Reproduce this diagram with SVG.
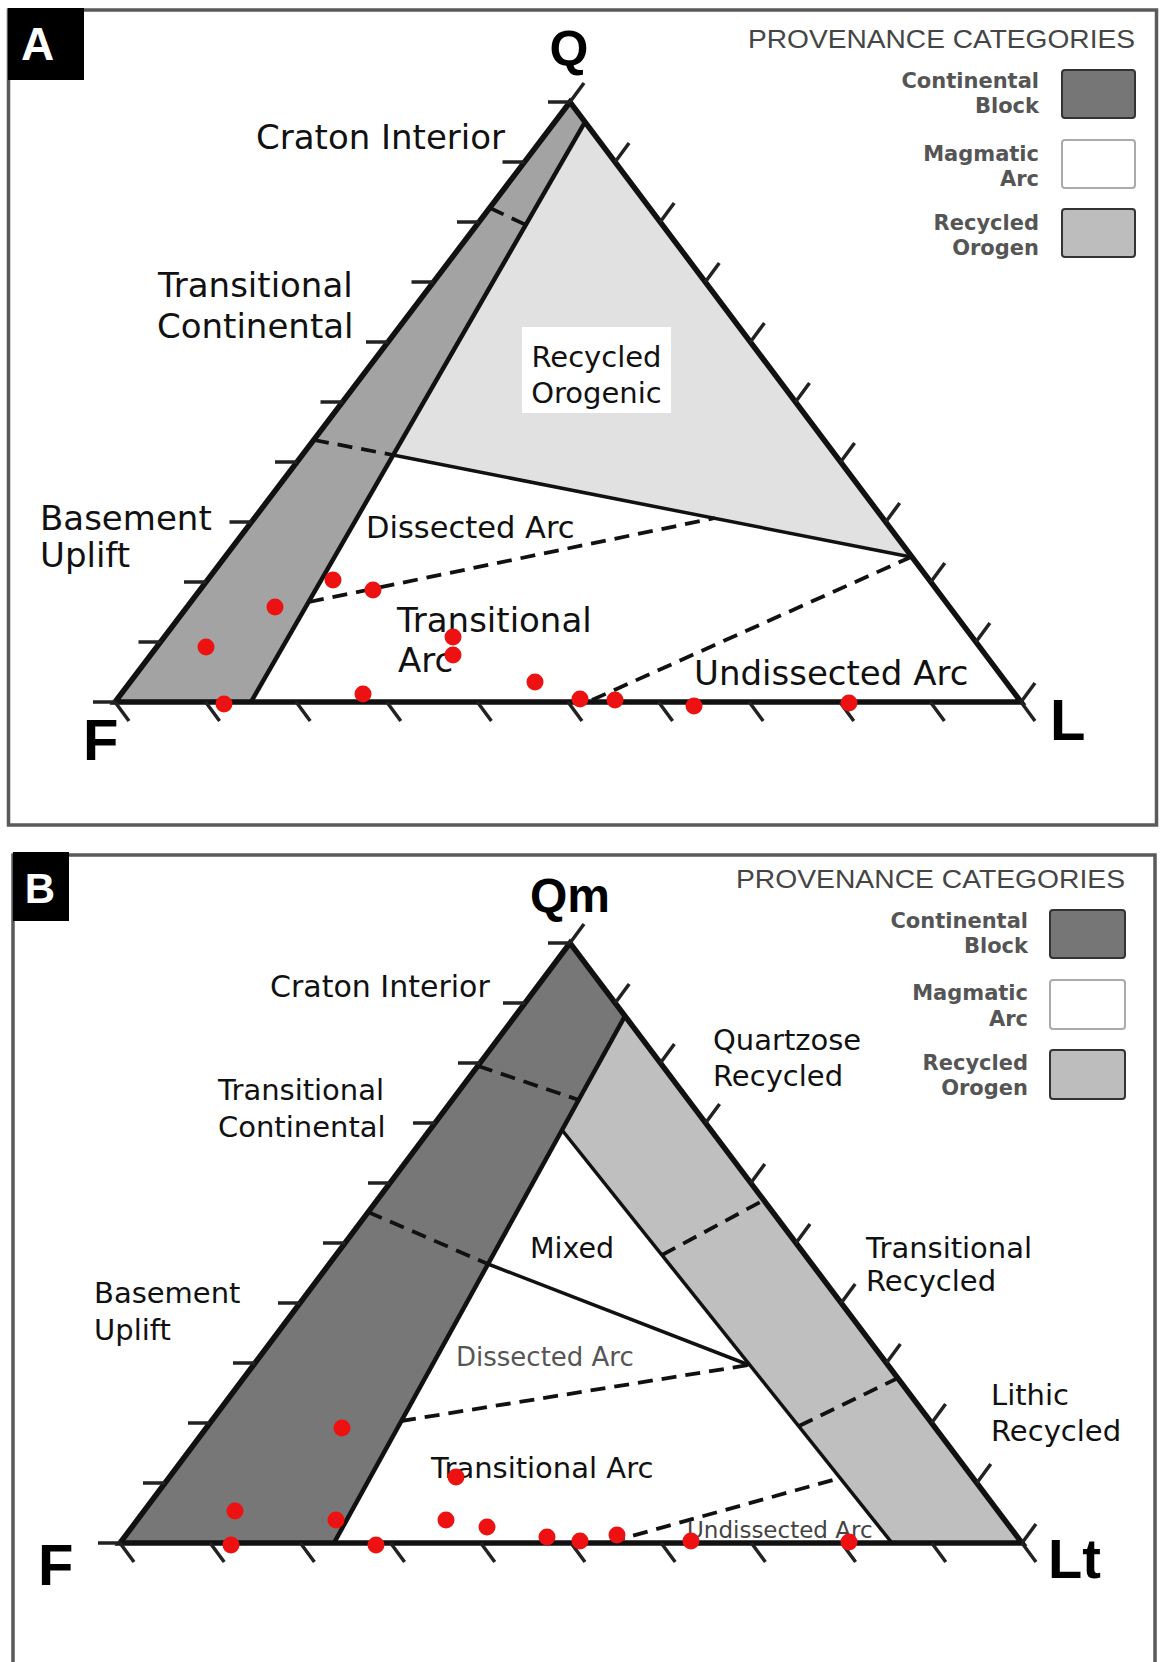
<svg xmlns="http://www.w3.org/2000/svg" width="1161" height="1662" viewBox="0 0 1161 1662">
<style>
.edge{stroke:#111;stroke-width:5.5;fill:none;stroke-linejoin:miter}
.bnd{stroke:#111;stroke-width:4.5;fill:none}
.sol{stroke:#111;stroke-width:3.5;fill:none}
.dash{stroke:#111;stroke-width:3.8;stroke-dasharray:15 9;fill:none}
.tick{stroke:#222;stroke-width:3.5;fill:none}
.lbl{font-family:"DejaVu Sans",Verdana,sans-serif;font-size:34px;fill:#111}
.lblB{font-family:"DejaVu Sans",Verdana,sans-serif;font-size:29px;fill:#111}
.big{font-family:"Liberation Sans",Arial,sans-serif;font-weight:bold;fill:#000}
.dot{fill:#ee1111}
.frame{fill:none;stroke:#5a5a5a;stroke-width:3.5}
.legh{font-family:"Liberation Sans",Arial,sans-serif;font-size:25px;fill:#454545}
.leg{font-family:"DejaVu Sans",Verdana,sans-serif;font-weight:bold;font-size:21px;fill:#555;text-anchor:end}
.swC{fill:#767676;stroke:#333;stroke-width:2}
.swM{fill:#fff;stroke:#aaa;stroke-width:2}
.swR{fill:#bdbdbd;stroke:#333;stroke-width:2}
</style>
<rect x="0" y="0" width="1161" height="1662" fill="#fff"/>

<g id="panelA">
  <rect class="frame" x="8.5" y="10" width="1148" height="815"/>
  <rect x="8" y="8" width="76" height="72" fill="#000"/>
  <text class="big" x="37.5" y="60" font-size="46" text-anchor="middle" style="fill:#fff">A</text>

  <g id="A-regions">
    <polygon points="115,702 570,102 585,122 251,702" fill="#a3a3a3"/>
    <polygon points="585,122 911,557 393,455" fill="#e1e1e1"/>
  </g>
  <g id="A-lines">
    <line class="bnd" x1="251" y1="702" x2="585" y2="122"/>
    <line class="sol" x1="393" y1="455" x2="911" y2="557"/>
    <line class="dash" x1="490" y1="208" x2="526" y2="225"/>
    <line class="dash" x1="314" y1="440" x2="393" y2="455"/>
    <line class="dash" x1="309" y1="602" x2="715" y2="518"/>
    <line class="dash" x1="592" y1="700" x2="911" y2="557"/>
    <polygon class="edge" points="570,102 115,702 1021,702"/>
    <path class="tick" d="M115,702h-22M160.5,642h-22M206,582h-22M251.5,522h-22M297,462h-22M342.5,402h-22M388,342h-22M433.5,282h-22M479,222h-22M524.5,162h-22M570,102h-22"/>
    <path class="tick" d="M115,702l14,19M205.6,702l14,19M296.2,702l14,19M386.8,702l14,19M477.4,702l14,19M568,702l14,19M658.6,702l14,19M749.2,702l14,19M839.8,702l14,19M930.4,702l14,19M1021,702l14,19"/>
    <path class="tick" d="M570,102l14,-19M615.1,162l14,-19M660.2,222l14,-19M705.3,282l14,-19M750.4,342l14,-19M795.5,402l14,-19M840.6,462l14,-19M885.7,522l14,-19M930.8,582l14,-19M975.9,642l14,-19M1021,702l14,-19"/>
  </g>

  <g id="A-labels">
    <text class="big" x="569" y="66" font-size="50" text-anchor="middle">Q</text>
    <text class="big" x="83" y="760" font-size="58">F</text>
    <text class="big" x="1050" y="740" font-size="58">L</text>
    <text class="lbl" x="256" y="149">Craton Interior</text>
    <text class="lbl" x="158" y="297">Transitional</text>
    <text class="lbl" x="157" y="338">Continental</text>
    <text class="lbl" x="40" y="530">Basement</text>
    <text class="lbl" x="40" y="567">Uplift</text>
    <rect x="522" y="327" width="149" height="86" fill="#fff"/>
    <text class="lbl" x="596.5" y="367" text-anchor="middle" style="font-size:29px">Recycled</text>
    <text class="lbl" x="596.5" y="403" text-anchor="middle" style="font-size:29px">Orogenic</text>
    <text class="lbl" x="366" y="538" style="font-size:30.5px">Dissected Arc</text>
    <text class="lbl" x="397" y="632">Transitional</text>
    <text class="lbl" x="398" y="672">Arc</text>
    <text class="lbl" x="694" y="685">Undissected Arc</text>
  </g>

  <g id="A-points">
    <circle class="dot" cx="333" cy="580" r="8.5"/>
    <circle class="dot" cx="373" cy="590" r="8.5"/>
    <circle class="dot" cx="275" cy="607" r="8.5"/>
    <circle class="dot" cx="206" cy="647" r="8.5"/>
    <circle class="dot" cx="453" cy="637" r="8.5"/>
    <circle class="dot" cx="453" cy="655" r="8.5"/>
    <circle class="dot" cx="224" cy="704" r="8.5"/>
    <circle class="dot" cx="363" cy="694" r="8.5"/>
    <circle class="dot" cx="535" cy="682" r="8.5"/>
    <circle class="dot" cx="580" cy="699" r="8.5"/>
    <circle class="dot" cx="615" cy="700" r="8.5"/>
    <circle class="dot" cx="694" cy="706" r="8.5"/>
    <circle class="dot" cx="849" cy="703" r="8.5"/>
  </g>

  <g id="A-legend">
    <text class="legh" x="748" y="48" textLength="387" lengthAdjust="spacingAndGlyphs">PROVENANCE CATEGORIES</text>
    <text class="leg" x="1039" y="88">Continental</text>
    <text class="leg" x="1039" y="113">Block</text>
    <rect class="swC" x="1062" y="70" width="73" height="48" rx="3"/>
    <text class="leg" x="1039" y="160.5">Magmatic</text>
    <text class="leg" x="1039" y="186">Arc</text>
    <rect class="swM" x="1062" y="140" width="73" height="48" rx="3"/>
    <text class="leg" x="1039" y="230">Recycled</text>
    <text class="leg" x="1039" y="255">Orogen</text>
    <rect class="swR" x="1062" y="209" width="73" height="48" rx="3"/>
  </g>
</g>

<g id="panelB">
  <rect class="frame" x="13" y="855" width="1142" height="860"/>
  <rect x="13" y="852" width="56" height="69" fill="#000"/>
  <text class="big" x="40" y="903" font-size="42" text-anchor="middle" style="fill:#fff">B</text>

  <g id="B-regions">
    <polygon points="120,1543 570,943 625,1016 334,1543" fill="#777777"/>
    <polygon points="625,1016 1022,1543 892,1543 562,1130" fill="#bfbfbf"/>
  </g>
  <g id="B-lines">
    <line class="bnd" x1="334" y1="1543" x2="625" y2="1016"/>
    <line class="sol" x1="562" y1="1130" x2="892" y2="1543"/>
    <line class="dash" x1="478" y1="1066" x2="579" y2="1100"/>
    <line class="dash" x1="368" y1="1212" x2="488" y2="1264"/>
    <line class="sol" x1="488" y1="1264" x2="749" y2="1365"/>
    <line class="dash" x1="662" y1="1255" x2="764" y2="1200"/>
    <line class="dash" x1="799" y1="1426" x2="898" y2="1378"/>
    <line class="dash" x1="401" y1="1421" x2="749" y2="1365"/>
    <line class="dash" x1="610" y1="1542" x2="840" y2="1478"/>
    <polygon class="edge" points="570,943 120,1543 1022,1543"/>
    <path class="tick" d="M120,1543h-22M165,1483h-22M210,1423h-22M255,1363h-22M300,1303h-22M345,1243h-22M390,1183h-22M435,1123h-22M480,1063h-22M525,1003h-22M570,943h-22"/>
    <path class="tick" d="M120,1543l14,19M210.2,1543l14,19M300.4,1543l14,19M390.6,1543l14,19M480.8,1543l14,19M571,1543l14,19M661.2,1543l14,19M751.4,1543l14,19M841.6,1543l14,19M931.8,1543l14,19M1022,1543l14,19"/>
    <path class="tick" d="M570,943l14,-19M615.2,1003l14,-19M660.4,1063l14,-19M705.6,1123l14,-19M750.8,1183l14,-19M796,1243l14,-19M841.2,1303l14,-19M886.4,1363l14,-19M931.6,1423l14,-19M976.8,1483l14,-19M1022,1543l14,-19"/>
  </g>

  <g id="B-labels">
    <text class="big" x="530" y="912" font-size="48">Qm</text>
    <text class="big" x="38" y="1585" font-size="58">F</text>
    <text class="big" x="1048" y="1578" font-size="56">Lt</text>
    <text class="lblB" x="270" y="997" style="font-size:30px">Craton Interior</text>
    <text class="lblB" x="218" y="1100">Transitional</text>
    <text class="lblB" x="218" y="1137">Continental</text>
    <text class="lblB" x="94" y="1303">Basement</text>
    <text class="lblB" x="94" y="1340">Uplift</text>
    <text class="lblB" x="530" y="1258" style="font-size:28.5px">Mixed</text>
    <text class="lblB" x="456" y="1366" style="font-size:26px;fill:#555">Dissected Arc</text>
    <text class="lblB" x="431" y="1478">Transitional Arc</text>
    <text class="lblB" x="687" y="1538" style="font-size:23px;fill:#444">Undissected Arc</text>
    <text class="lblB" x="713" y="1050">Quartzose</text>
    <text class="lblB" x="713" y="1086">Recycled</text>
    <text class="lblB" x="866" y="1258">Transitional</text>
    <text class="lblB" x="866" y="1291">Recycled</text>
    <text class="lblB" x="991" y="1405">Lithic</text>
    <text class="lblB" x="991" y="1441">Recycled</text>
  </g>

  <g id="B-points">
    <circle class="dot" cx="342" cy="1428" r="8.5"/>
    <circle class="dot" cx="235" cy="1511" r="8.5"/>
    <circle class="dot" cx="231" cy="1545" r="8.5"/>
    <circle class="dot" cx="336" cy="1520" r="8.5"/>
    <circle class="dot" cx="376" cy="1545" r="8.5"/>
    <circle class="dot" cx="456" cy="1477" r="8.5"/>
    <circle class="dot" cx="446" cy="1520" r="8.5"/>
    <circle class="dot" cx="487" cy="1527" r="8.5"/>
    <circle class="dot" cx="547" cy="1537" r="8.5"/>
    <circle class="dot" cx="580" cy="1541" r="8.5"/>
    <circle class="dot" cx="617" cy="1535" r="8.5"/>
    <circle class="dot" cx="691" cy="1541" r="8.5"/>
    <circle class="dot" cx="849" cy="1542" r="8.5"/>
  </g>

  <g id="B-legend">
    <text class="legh" x="736" y="888" textLength="389" lengthAdjust="spacingAndGlyphs">PROVENANCE CATEGORIES</text>
    <text class="leg" x="1028" y="928">Continental</text>
    <text class="leg" x="1028" y="953">Block</text>
    <rect class="swC" x="1050" y="910" width="75" height="48" rx="3"/>
    <text class="leg" x="1028" y="1000">Magmatic</text>
    <text class="leg" x="1028" y="1026">Arc</text>
    <rect class="swM" x="1050" y="980" width="75" height="49" rx="3"/>
    <text class="leg" x="1028" y="1070">Recycled</text>
    <text class="leg" x="1028" y="1095">Orogen</text>
    <rect class="swR" x="1050" y="1050" width="75" height="49" rx="3"/>
  </g>
</g>
</svg>
